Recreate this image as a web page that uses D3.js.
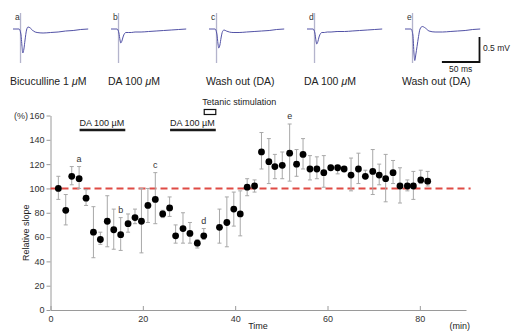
<!DOCTYPE html>
<html><head><meta charset="utf-8">
<script src="https://cdn.jsdelivr.net/npm/d3@7/dist/d3.min.js"></script>
<style>
html,body{margin:0;padding:0;background:#fff;}
svg{display:block;font-family:"Liberation Sans",Arial,Helvetica,sans-serif;}
</style></head>
<body><svg id="c" width="514" height="331"></svg>
<script>
// ---- main chart data ----
const times = [1.7,3.3,4.6,6.2,7.7,9.3,10.8,12.3,13.7,15.2,16.8,18.3,19.7,21.1,22.7,24.3,25.8,27.1,28.7,30.2,31.8,33.2,36.6,38.2,39.7,41.1,42.6,44.2,45.7,47.3,48.6,50.2,51.8,53.3,54.7,56.2,57.7,59.2,60.7,62.2,63.6,65.1,66.7,68.2,69.8,71.2,72.6,74.2,75.7,77.3,78.6,80.2,81.7];
const means = [100,82,110,108,92,64,58,73,66,62,71,76,73,86,91,79,84,61,67,63,55,61,68,72,83,79,101,102,130,122,118,119,129,120,128,116,116,113,117,117,116,111,116,110,114,111,108,113,102,102,102,107,106];
const upper = [110,95,118,118,99,85,64,94,83,76,79,83,100,100,113,82,93,70,80,72,58,67,83,93,97,98,108,107,146,141,128,130,153,132,141,127,126,127,119,118,118,125,129,115,132,120,128,123,117,107,114,115,114];
const lower = [91,70,103,100,86,43,54,52,50,49,64,71,47,72,71,76,77,55,55,55,51,58,55,52,69,61,94,97,116,104,108,108,106,110,116,107,108,101,115,112,115,98,104,110,95,103,89,104,88,98,91,104,102];
const pointLabels = [{i:3,t:"a"},{i:9,t:"b"},{i:14,t:"c"},{i:21,t:"d"},{i:32,t:"e"}];
const xTicks = [0,20,40,60,80];
const yTicks = [0,20,40,60,80,100,120,140,160];
const baseline = 100;
const drugBars = [{from:6.3,to:16.2,label:"DA 100 \u00b5M"},{from:25.9,to:35.8,label:"DA 100 \u00b5M"}];
const tetanic = {from:33.3,to:35.8,label:"Tetanic stimulation"};

// ---- trace data (ms, mV relative to baseline) ----
const traceMs = [0,8,10.5,12,13,14.5,16,18,20,23,27,32,40,50,60,70,80,90,100];
const traceA = [0,0,-0.1,-0.35,-0.48,-0.4,-0.22,-0.02,0.04,0.02,-0.04,-0.07,-0.08,-0.07,-0.06,-0.04,-0.03,-0.01,0];
const traceB = [0,0,-0.08,-0.22,-0.28,-0.24,-0.16,-0.09,-0.07,-0.07,-0.07,-0.06,-0.06,-0.05,-0.04,-0.03,-0.02,-0.01,0];
const traceC = [0,0,-0.1,-0.3,-0.38,-0.32,-0.18,-0.05,-0.02,-0.04,-0.06,-0.07,-0.07,-0.06,-0.05,-0.04,-0.03,-0.01,0];
const traceD = [0,0,-0.08,-0.24,-0.3,-0.25,-0.16,-0.09,-0.07,-0.07,-0.06,-0.06,-0.05,-0.05,-0.04,-0.03,-0.02,-0.01,0];
const traceE = [0,0,-0.12,-0.5,-0.63,-0.5,-0.35,-0.15,0.0,0.05,0.02,-0.04,-0.06,-0.06,-0.05,-0.04,-0.03,-0.01,0];
const traceLetters = ["a","b","c","d","e"];
const traceCaptions = ["Bicuculline 1 \u03bcM","DA 100 \u03bcM","Wash out (DA)","DA 100 \u03bcM","Wash out (DA)"];
const stimMs = 10;
const scaleBarMs = 50, scaleBarMv = 0.5;

const svg = d3.select("#c");
const font = '"Liberation Sans",Arial,Helvetica,sans-serif';

// ---- traces panel ----
const traceX = d3.scaleLinear().domain([0,100]).range([0,75.2]);
const traceY = d3.scaleLinear().domain([-1,0]).range([79,29]); // 50 px per mV
const traceStarts = [13,111,209,307,405];
const traces = [traceA,traceB,traceC,traceD,traceE];
const line = d3.line().x(d=>traceX(d[0])).y(d=>traceY(d[1])).curve(d3.curveMonotoneX);
traces.forEach((tr,k)=>{
  const g = svg.append("g").attr("transform",`translate(${traceStarts[k]},0)`);
  g.append("line").attr("x1",traceX(stimMs)).attr("x2",traceX(stimMs))
    .attr("y1",13).attr("y2",63).attr("stroke","#b4b4cc").attr("stroke-width",1.3);
  g.append("path").attr("d",line(traceMs.map((m,i)=>[m,tr[i]])))
    .attr("fill","none").attr("stroke","#5252a6").attr("stroke-width",1);
  g.append("text").attr("x",2).attr("y",20).attr("font-size",8.5).attr("fill","#333").text(traceLetters[k]);
  const cap = traceCaptions[k];
  const t = g.append("text").attr("x",-3).attr("y",85).attr("font-size",10.5).attr("fill","#222");
  const idx = cap.indexOf("\u03bc");
  t.append("tspan").text(cap.slice(0,idx>=0?idx:cap.length));
  if(idx>=0){ t.append("tspan").attr("font-style","italic").text("\u03bc"); t.append("tspan").text(cap.slice(idx+1)); }
});
// scale bar
const sbX1 = 479.5, sbY = 62;
const sbW = traceX(scaleBarMs)-traceX(0);
const sbH = traceY(0)-traceY(scaleBarMv);
svg.append("path").attr("d",`M${sbX1-sbW},${sbY} H${sbX1} V${sbY-sbH}`)
  .attr("fill","none").attr("stroke","#111").attr("stroke-width",1.8);
svg.append("text").attr("x",483).attr("y",51).attr("font-size",8.5).attr("fill","#222").text(scaleBarMv+" mV");
svg.append("text").attr("x",sbX1-sbW/2).attr("y",72).attr("text-anchor","middle").attr("font-size",8.5).attr("fill","#222").text(scaleBarMs+" ms");

// ---- main chart ----
const x = d3.scaleLinear().domain([0,90]).range([50.5,466]);
const y = d3.scaleLinear().domain([0,160]).range([310,115.5]);

const yAxis = svg.append("g").attr("transform","translate(50.5,0)")
  .call(d3.axisLeft(y).tickValues(yTicks).tickSize(4).tickPadding(2).tickSizeOuter(0));
const xAxis = svg.append("g").attr("transform","translate(0,310)")
  .call(d3.axisBottom(x).tickValues(xTicks).tickSize(-4).tickPadding(6).tickSizeOuter(0));
[yAxis,xAxis].forEach(a=>{
  a.selectAll("path,line").attr("stroke","#9a9a9a");
  a.selectAll("text").attr("font-size",9).attr("fill","#333").attr("font-family",font);
});
xAxis.selectAll(".tick text").attr("dy","0.71em").attr("y",6);
svg.append("text").attr("x",28).attr("y",y(160)+3).attr("text-anchor","end").attr("font-size",9).attr("fill","#333").text("(%)");
svg.append("text").attr("transform",`translate(29,${(y(0)+y(160))/2+20}) rotate(-90)`).attr("text-anchor","middle").attr("font-size",9).attr("fill","#222").text("Relative slope");
svg.append("text").attr("x",258).attr("y",329).attr("text-anchor","middle").attr("font-size",9).attr("fill","#222").text("Time");
svg.append("text").attr("x",470).attr("y",329).attr("text-anchor","end").attr("font-size",9).attr("fill","#222").text("(min)");

// baseline
svg.append("line").attr("x1",x(0)).attr("x2",x(91)).attr("y1",y(baseline)).attr("y2",y(baseline))
  .attr("stroke","#df4b45").attr("stroke-width",2).attr("stroke-dasharray","7,4");

// drug bars
drugBars.forEach(b=>{
  svg.append("line").attr("x1",x(b.from)).attr("x2",x(b.to)).attr("y1",130).attr("y2",130)
    .attr("stroke","#1a1a1a").attr("stroke-width",2.5);
  svg.append("text").attr("x",x(b.from)).attr("y",126).attr("font-size",9).attr("fill","#222").text(b.label);
});
svg.append("rect").attr("x",x(tetanic.from)).attr("y",109.5).attr("width",x(tetanic.to)-x(tetanic.from)).attr("height",5)
  .attr("fill","none").attr("stroke","#111").attr("stroke-width",1.2);
svg.append("text").attr("x",x(tetanic.from)-2).attr("y",105).attr("font-size",9).attr("fill","#222").text(tetanic.label);

// error bars
const eb = svg.append("g").attr("stroke","#a8a8a8").attr("stroke-width",1);
times.forEach((t,i)=>{
  const cx = x(t);
  eb.append("line").attr("x1",cx).attr("x2",cx).attr("y1",y(upper[i])).attr("y2",y(lower[i]));
  eb.append("line").attr("x1",cx-2).attr("x2",cx+2).attr("y1",y(upper[i])).attr("y2",y(upper[i]));
  eb.append("line").attr("x1",cx-2).attr("x2",cx+2).attr("y1",y(lower[i])).attr("y2",y(lower[i]));
});
svg.append("g").selectAll("circle").data(times).join("circle")
  .attr("cx",d=>x(d)).attr("cy",(d,i)=>y(means[i])).attr("r",3.4).attr("fill","#000");

pointLabels.forEach(p=>{
  svg.append("text").attr("x",x(times[p.i])).attr("y",y(upper[p.i])-5).attr("text-anchor","middle")
    .attr("font-size",9).attr("fill","#333").text(p.t);
});
</script></body></html>
